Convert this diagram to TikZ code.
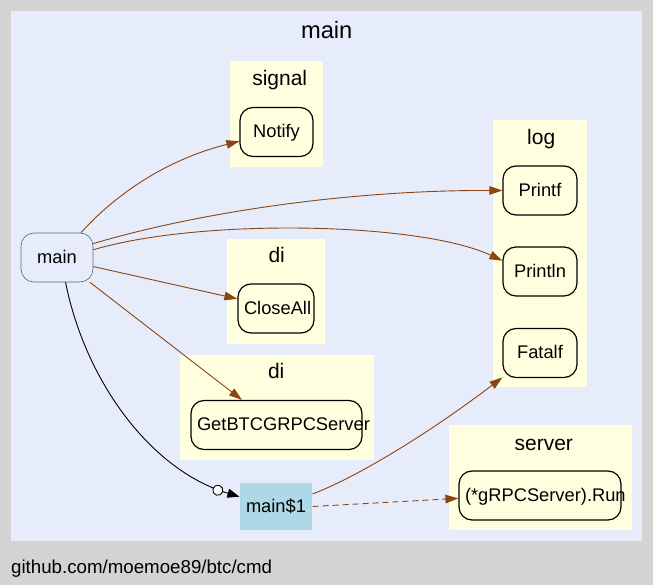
\documentclass[tikz,border=0pt]{standalone}
\usepackage{fontspec}
\setmainfont{Liberation Sans}
\usepackage{xcolor}
\usepackage{tikz}
\usetikzlibrary{arrows.meta}

\definecolor{bggray}{HTML}{D3D3D3}
\definecolor{mainblue}{HTML}{E6ECFA}
\definecolor{pkgyellow}{HTML}{FFFFE0}
\definecolor{goblue}{HTML}{ADD8E6}
\definecolor{callbrown}{HTML}{8B4513}

\begin{document}
\begin{tikzpicture}[
  x=1pt, y=-1pt,
  fnbox/.style={draw=black, line width=1.2pt, rounded corners=13pt, fill=pkgyellow,
                minimum height=49pt, inner xsep=6pt, inner ysep=0pt, align=center,
                text height=11.6pt, text depth=0pt,
                font=\fontsize{18.3}{22}\selectfont,
                execute at begin node={\hyphenpenalty=10000\relax}},
  rootbox/.style={fnbox, draw=black!60, line width=0.6pt, fill=mainblue},
  gobox/.style={fnbox, draw=none, sharp corners, fill=goblue, minimum height=47pt},
  pkglabel/.style={anchor=base, inner sep=0pt, font=\fontsize{21}{25}\selectfont},
  arrow/.style={-{Triangle[length=13pt, width=8.5pt]}, draw=callbrown, line width=0.9pt},
  dynarrow/.style={arrow, dash pattern=on 6pt off 4pt},
  goarrow/.style={-{Circle[open, fill=white, length=11pt, width=11pt, sep=5pt] Triangle[length=12pt, width=9pt]},
                  draw=black, line width=0.9pt},
]

%% ── Canvas and clusters ───────────────────────────────────────────────────
\useasboundingbox (0,0) rectangle (653,585);
\fill[bggray]    (0,0)     rectangle (653,585);
\fill[mainblue]  (11,11)   rectangle (642,541);
\fill[pkgyellow] (230,61)  rectangle (323,167);  % signal
\fill[pkgyellow] (493,120) rectangle (587,387);  % log
\fill[pkgyellow] (227,239) rectangle (325,344);  % di
\fill[pkgyellow] (180,355) rectangle (374,460);  % di
\fill[pkgyellow] (449,425) rectangle (632,530);  % server

%% ── Cluster labels ────────────────────────────────────────────────────────
\node[pkglabel, font=\fontsize{23.7}{28}\selectfont] (tmain) at (326.7,39) {main};
\node[pkglabel] (tsignal) at (279.7,86)    {signal};
\node[pkglabel] (tlog)    at (541.2,144.3) {log};
\node[pkglabel] (tdi)     at (276.7,262.7) {di};
\node[pkglabel] (tdii)    at (276.2,378.3) {di};
\node[pkglabel] (tserver) at (543.8,450)   {server};
\node[anchor=base west, inner sep=0pt, font=\fontsize{18.7}{22}\selectfont]
  (pkgpath) at (11,573.3) {github.com/moemoe89/btc/cmd};

%% ── Functions ─────────────────────────────────────────────────────────────
\node[rootbox, text width=60pt]  (main)     at (57,257.5)  {main};
\node[fnbox,   text width=61pt]  (Notify)   at (276.5,132) {Notify};
\node[fnbox,   text width=62pt]  (Printf)   at (540,190.5) {Printf};
\node[fnbox,   text width=62pt]  (Println)  at (540,271.5) {Println};
\node[fnbox,   text width=62pt]  (Fatalf)   at (540,353)   {Fatalf};
\node[fnbox,   text width=64pt]  (CloseAll) at (276,308.5) {CloseAll};
\node[fnbox,   text width=159pt] (GetBTC)   at (276.5,425) {GetBTCGRPCServer};
\node[gobox,   text width=60pt]  (mainone)  at (276,506.5) {main\$1};
\node[fnbox,   text width=150pt] (Run)      at (540,495.5) {(*gRPCServer).Run};

%% ── Calls ─────────────────────────────────────────────────────────────────
\draw[arrow]    (main.46)  .. controls (115,195) and (165,160) .. (Notify.194);
\draw[arrow]    (main.21)  .. controls (200,212) and (350,190) .. (Printf.west);
\draw[arrow]    (main.12)  .. controls (200,218) and (420,222) .. (Println.164);
\draw[arrow]    (main.346) -- (CloseAll.166);
\draw[arrow]    (main.323) -- (GetBTC.144);
\draw[goarrow]  (main.289) .. controls (85,380) and (150,470) .. (mainone.165);
\draw[arrow]    (mainone.19) .. controls (350,480) and (420,440) .. (Fatalf.213);
\draw[dynarrow] (mainone.east) -- (Run.182);

\end{tikzpicture}
\end{document}
